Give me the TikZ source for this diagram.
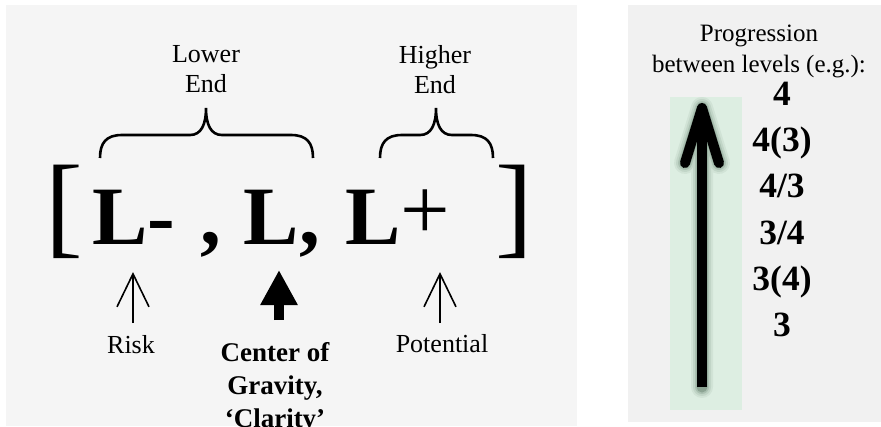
\documentclass[tikz,border=0pt]{standalone}
\usepackage{fontspec}
\setmainfont{Liberation Serif}
\usetikzlibrary{arrows.meta}
\definecolor{leftbg}{RGB}{245,245,245}
\definecolor{rightbg}{RGB}{241,241,241}
\definecolor{greenbar}{RGB}{221,238,226}
\definecolor{shadowc}{RGB}{60,90,70}
\begin{document}
\begin{tikzpicture}[x=1pt,y=-1pt,
  lbl/.style={font=\fontsize{26}{30}\selectfont, inner sep=0pt, align=center},
  boldlbl/.style={font=\bfseries\fontsize{27}{33}\selectfont, inner sep=0pt, align=center},
  proglbl/.style={font=\fontsize{25}{31}\selectfont, inner sep=0pt, align=center},
  levels/.style={font=\bfseries\fontsize{35.5}{46.2}\selectfont, inner sep=0pt, align=center},
  bigL/.style={font=\bfseries\fontsize{83}{90}\selectfont, inner sep=0pt},
  bigbr/.style={font=\fontsize{113}{120}\selectfont, inner sep=0pt},
  bracecurve/.style={line width=2.6pt, line cap=butt},
  thinarr/.style={line width=1.6pt, -{Straight Barb[length=33pt, width=32pt]}},
  thickarr/.style={line width=10pt, -{Triangle[length=35pt, width=35pt]}},
  bigarrow/.style={line width=10pt, line join=round}
]
\useasboundingbox (0,0) rectangle (881,426);
\fill[white] (0,0) rectangle (881,426);
\fill[leftbg] (6,5) rectangle (577,426);
\fill[rightbg] (628,5) rectangle (881,422);
\fill[greenbar] (670,97) rectangle (742,410);

% main expression
\node[bigbr, anchor=base] (lb) at (64,243) {[};
\node[bigL, anchor=base] (lminus) at (134,244) {L-};
\node[bigL, anchor=base] (comma) at (211,244) {,};
\node[bigL, anchor=base] (lmid) at (282,244) {L,};
\node[bigL, anchor=base] (lplus) at (398,244) {L{\mdseries\fontsize{88}{90}\selectfont\raisebox{5pt}{+}}};
\node[bigbr, anchor=base] (rb) at (514,243) {]};

% braces
\draw[bracecurve] (100,158) .. controls (100,143) and (106,135) .. (122,135) -- (190,135)
  .. controls (201,135) and (206,125) .. (206,108)
  .. controls (206,125) and (211,135) .. (222,135) -- (291,135)
  .. controls (307,135) and (313,143) .. (313,158);
\draw[bracecurve] (380,158) .. controls (380,143) and (386,135) .. (402,135) -- (420,135)
  .. controls (431,135) and (436,125) .. (436,108)
  .. controls (436,125) and (441,135) .. (452,135) -- (471,135)
  .. controls (487,135) and (493,143) .. (493,158);

\node[lbl, anchor=north] (lower) at (206,45) {Lower\\End};
\node[lbl, anchor=north] (higher) at (435,45) {Higher\\End};

% bottom labels and arrows
\node[lbl, anchor=base] (risk) at (131,353) {Risk};
\node[lbl, anchor=base] (potential) at (442,352) {Potential};
\node[boldlbl, anchor=north] (center) at (275,342) {Center of\\Gravity,\\‘Clarity’};

\coordinate (riskA) at (133,323); \coordinate (riskB) at (133,272);
\coordinate (potA) at (440,323); \coordinate (potB) at (440,272);
\coordinate (cogA) at (279,320); \coordinate (cogB) at (279,270);
\draw[thinarr] (riskA) -- (riskB);
\draw[thinarr] (potA) -- (potB);
\draw[thickarr] (cogA) -- (cogB);

% right panel
\node[proglbl, anchor=north] (prog) at (759,25) {Progression\\between levels (e.g.):};
\node[levels, anchor=north] (lev) at (782,82) {4\\4(3)\\4/3\\3/4\\3(4)\\3};

\coordinate (bb) at (702,387);
\coordinate (bt) at (702,108);
\coordinate (bl) at (685,163);
\coordinate (br) at (719,163);
\begin{scope}[shift={(5,5)}]
  \foreach \w/\o in {22/0.07, 18/0.10, 14/0.16, 11/0.28} {
    \draw[line width=\w pt, draw=shadowc, opacity=\o, line cap=round, line join=round]
      (bb) -- (bt) (bl) -- (bt) -- (br);
  }
\end{scope}
\draw[bigarrow, line cap=butt] (bb) -- (bt);
\draw[bigarrow, line cap=round] (bl) -- (bt) -- (br);
\end{tikzpicture}
\end{document}
